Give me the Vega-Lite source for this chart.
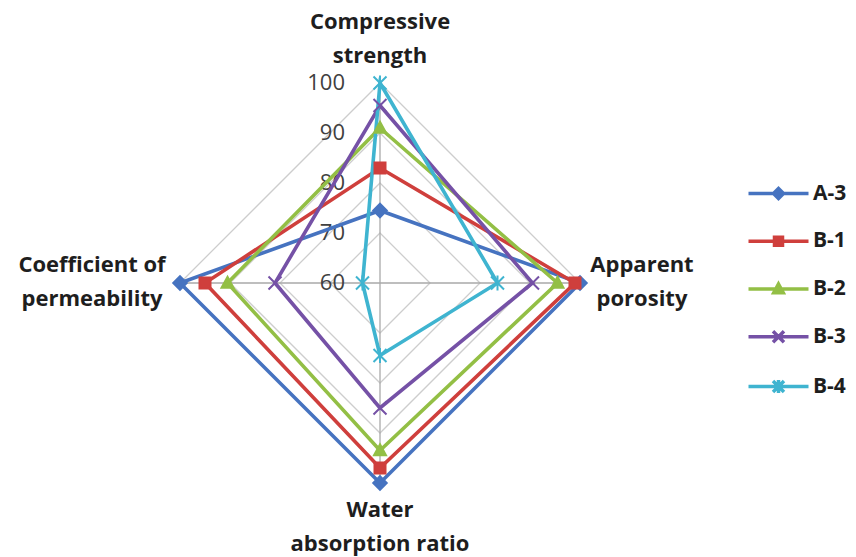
{
  "$schema": "https://vega.github.io/schema/vega-lite/v6.json",
  "width": 856,
  "height": 557,
  "padding": 0,
  "autosize": {"type": "none"},
  "background": "white",
  "config": {"view": {"stroke": null}, "font": "Open Sans"},
  "datasets": {
    "scores": [
      {"series": "A-3", "axis": "Compressive strength", "value": 74.5},
      {"series": "A-3", "axis": "Apparent porosity", "value": 100},
      {"series": "A-3", "axis": "Water absorption ratio", "value": 100},
      {"series": "A-3", "axis": "Coefficient of permeability", "value": 100},
      {"series": "B-1", "axis": "Compressive strength", "value": 83},
      {"series": "B-1", "axis": "Apparent porosity", "value": 99},
      {"series": "B-1", "axis": "Water absorption ratio", "value": 97},
      {"series": "B-1", "axis": "Coefficient of permeability", "value": 95},
      {"series": "B-2", "axis": "Compressive strength", "value": 91},
      {"series": "B-2", "axis": "Apparent porosity", "value": 95.5},
      {"series": "B-2", "axis": "Water absorption ratio", "value": 93.5},
      {"series": "B-2", "axis": "Coefficient of permeability", "value": 90.5},
      {"series": "B-3", "axis": "Compressive strength", "value": 95.5},
      {"series": "B-3", "axis": "Apparent porosity", "value": 90.5},
      {"series": "B-3", "axis": "Water absorption ratio", "value": 85},
      {"series": "B-3", "axis": "Coefficient of permeability", "value": 81},
      {"series": "B-4", "axis": "Compressive strength", "value": 100},
      {"series": "B-4", "axis": "Apparent porosity", "value": 83.5},
      {"series": "B-4", "axis": "Water absorption ratio", "value": 74.5},
      {"series": "B-4", "axis": "Coefficient of permeability", "value": 63.5}
    ],
    "grid": [
      {"value": 70, "axis": "Compressive strength"},
      {"value": 70, "axis": "Apparent porosity"},
      {"value": 70, "axis": "Water absorption ratio"},
      {"value": 70, "axis": "Coefficient of permeability"},
      {"value": 80, "axis": "Compressive strength"},
      {"value": 80, "axis": "Apparent porosity"},
      {"value": 80, "axis": "Water absorption ratio"},
      {"value": 80, "axis": "Coefficient of permeability"},
      {"value": 90, "axis": "Compressive strength"},
      {"value": 90, "axis": "Apparent porosity"},
      {"value": 90, "axis": "Water absorption ratio"},
      {"value": 90, "axis": "Coefficient of permeability"},
      {"value": 100, "axis": "Compressive strength"},
      {"value": 100, "axis": "Apparent porosity"},
      {"value": 100, "axis": "Water absorption ratio"},
      {"value": 100, "axis": "Coefficient of permeability"}
    ],
    "ticks": [{"value": 60}, {"value": 70}, {"value": 80}, {"value": 90}, {"value": 100}],
    "titles": [
      {"axis": "Compressive strength", "label": ["Compressive", "strength"]},
      {"axis": "Apparent porosity", "label": ["Apparent", "porosity"]},
      {"axis": "Water absorption ratio", "label": ["Water", "absorption ratio"]},
      {"axis": "Coefficient of permeability", "label": ["Coefficient of", "permeability"]}
    ]
  },
  "layer": [
    {
      "data": {"name": "grid"},
      "transform": [
        {"calculate": "indexof(['Compressive strength','Apparent porosity','Water absorption ratio','Coefficient of permeability'], datum.axis)", "as": "idx"},
        {"calculate": "(datum.value - 60) * sin(datum.idx * PI / 2)", "as": "px"},
        {"calculate": "(datum.value - 60) * cos(datum.idx * PI / 2)", "as": "py"}
      ],
      "mark": {"type": "line", "interpolate": "linear-closed", "stroke": "#cdcdcd", "strokeWidth": 1.3},
      "encoding": {
        "x": {"field": "px", "type": "quantitative", "scale": {"domain": [-76, 95.2], "nice": false, "zero": false}, "axis": null},
        "y": {"field": "py", "type": "quantitative", "scale": {"domain": [-54.8, 56.6], "nice": false, "zero": false}, "axis": null},
        "detail": {"field": "value", "type": "nominal"},
        "order": {"field": "idx", "type": "quantitative"}
      }
    },
    {
      "data": {"name": "grid"},
      "transform": [
        {"filter": "datum.value === 100"},
        {"calculate": "indexof(['Compressive strength','Apparent porosity','Water absorption ratio','Coefficient of permeability'], datum.axis)", "as": "idx"},
        {"calculate": "(datum.value - 60) * sin(datum.idx * PI / 2)", "as": "px"},
        {"calculate": "(datum.value - 60) * cos(datum.idx * PI / 2)", "as": "py"}
      ],
      "mark": {"type": "rule", "stroke": "#a9a9a9", "strokeWidth": 1.3},
      "encoding": {
        "x": {"field": "px", "type": "quantitative", "scale": {"domain": [-76, 95.2], "nice": false, "zero": false}, "axis": null},
        "y": {"field": "py", "type": "quantitative", "scale": {"domain": [-54.8, 56.6], "nice": false, "zero": false}, "axis": null},
        "x2": {"datum": 0},
        "y2": {"datum": 0}
      }
    },
    {
      "data": {"name": "ticks"},
      "transform": [{"calculate": "datum.value - 60", "as": "py"}],
      "mark": {"type": "text", "align": "right", "baseline": "middle", "dx": -35, "font": "Open Sans", "fontSize": 22, "color": "#404040"},
      "encoding": {
        "x": {"datum": 0, "type": "quantitative", "scale": {"domain": [-76, 95.2], "nice": false, "zero": false}, "axis": null},
        "y": {"field": "py", "type": "quantitative", "scale": {"domain": [-54.8, 56.6], "nice": false, "zero": false}, "axis": null},
        "text": {"field": "value", "type": "quantitative"}
      }
    },
    {
      "data": {"name": "scores"},
      "transform": [
        {"calculate": "indexof(['Compressive strength','Apparent porosity','Water absorption ratio','Coefficient of permeability'], datum.axis)", "as": "idx"},
        {"calculate": "(datum.value - 60) * sin(datum.idx * PI / 2)", "as": "px"},
        {"calculate": "(datum.value - 60) * cos(datum.idx * PI / 2)", "as": "py"}
      ],
      "mark": {"type": "line", "interpolate": "linear-closed", "strokeWidth": 3.6},
      "encoding": {
        "x": {"field": "px", "type": "quantitative", "scale": {"domain": [-76, 95.2], "nice": false, "zero": false}, "axis": null},
        "y": {"field": "py", "type": "quantitative", "scale": {"domain": [-54.8, 56.6], "nice": false, "zero": false}, "axis": null},
        "color": {
          "field": "series", "type": "nominal",
          "scale": {"domain": ["A-3", "B-1", "B-2", "B-3", "B-4"], "range": ["#4673c0", "#cf3f3c", "#93bf45", "#7551a6", "#3fb4d0"]},
          "legend": {
            "title": null,
            "orient": "none",
            "legendX": 768,
            "legendY": 183,
            "labelFont": "Open Sans",
            "labelFontWeight": "bold",
            "labelFontSize": 21,
            "labelColor": "#1e1e1e",
            "labelOffset": 24,
            "symbolSize": 100,
            "symbolStrokeWidth": 3.5,
            "rowPadding": 23.75
          }
        },
        "order": {"field": "idx", "type": "quantitative"}
      }
    },
    {
      "data": {"name": "scores"},
      "transform": [
        {"filter": "datum.series === 'A-3'"},
        {"calculate": "indexof(['Compressive strength','Apparent porosity','Water absorption ratio','Coefficient of permeability'], datum.axis)", "as": "idx"},
        {"calculate": "(datum.value - 60) * sin(datum.idx * PI / 2)", "as": "px"},
        {"calculate": "(datum.value - 60) * cos(datum.idx * PI / 2)", "as": "py"}
      ],
      "mark": {"type": "point", "filled": true, "size": 100, "opacity": 1, "strokeWidth": 2, "shape": "M0,-1.35L1.35,0L0,1.35L-1.35,0Z"},
      "encoding": {
        "x": {"field": "px", "type": "quantitative", "scale": {"domain": [-76, 95.2], "nice": false, "zero": false}, "axis": null},
        "y": {"field": "py", "type": "quantitative", "scale": {"domain": [-54.8, 56.6], "nice": false, "zero": false}, "axis": null},
        "fill": {"field": "series", "type": "nominal", "scale": {"domain": ["A-3", "B-1", "B-2", "B-3", "B-4"], "range": ["#4673c0", "#cf3f3c", "#93bf45", "#7551a6", "#3fb4d0"]}, "legend": null},
        "stroke": {"field": "series", "type": "nominal", "scale": {"domain": ["A-3", "B-1", "B-2", "B-3", "B-4"], "range": ["#4673c0", "#cf3f3c", "#93bf45", "#7551a6", "#3fb4d0"]}, "legend": null}
      }
    },
    {
      "data": {"name": "scores"},
      "transform": [
        {"filter": "datum.series === 'B-1'"},
        {"calculate": "indexof(['Compressive strength','Apparent porosity','Water absorption ratio','Coefficient of permeability'], datum.axis)", "as": "idx"},
        {"calculate": "(datum.value - 60) * sin(datum.idx * PI / 2)", "as": "px"},
        {"calculate": "(datum.value - 60) * cos(datum.idx * PI / 2)", "as": "py"}
      ],
      "mark": {"type": "point", "filled": true, "size": 100, "opacity": 1, "strokeWidth": 2, "shape": "M-1.1,-1.1H1.1V1.1H-1.1Z"},
      "encoding": {
        "x": {"field": "px", "type": "quantitative", "scale": {"domain": [-76, 95.2], "nice": false, "zero": false}, "axis": null},
        "y": {"field": "py", "type": "quantitative", "scale": {"domain": [-54.8, 56.6], "nice": false, "zero": false}, "axis": null},
        "fill": {"field": "series", "type": "nominal", "scale": {"domain": ["A-3", "B-1", "B-2", "B-3", "B-4"], "range": ["#4673c0", "#cf3f3c", "#93bf45", "#7551a6", "#3fb4d0"]}, "legend": null},
        "stroke": {"field": "series", "type": "nominal", "scale": {"domain": ["A-3", "B-1", "B-2", "B-3", "B-4"], "range": ["#4673c0", "#cf3f3c", "#93bf45", "#7551a6", "#3fb4d0"]}, "legend": null}
      }
    },
    {
      "data": {"name": "scores"},
      "transform": [
        {"filter": "datum.series === 'B-2'"},
        {"calculate": "indexof(['Compressive strength','Apparent porosity','Water absorption ratio','Coefficient of permeability'], datum.axis)", "as": "idx"},
        {"calculate": "(datum.value - 60) * sin(datum.idx * PI / 2)", "as": "px"},
        {"calculate": "(datum.value - 60) * cos(datum.idx * PI / 2)", "as": "py"}
      ],
      "mark": {"type": "point", "filled": true, "size": 100, "opacity": 1, "strokeWidth": 2, "shape": "M0,-1.25L1.2,0.95H-1.2Z"},
      "encoding": {
        "x": {"field": "px", "type": "quantitative", "scale": {"domain": [-76, 95.2], "nice": false, "zero": false}, "axis": null},
        "y": {"field": "py", "type": "quantitative", "scale": {"domain": [-54.8, 56.6], "nice": false, "zero": false}, "axis": null},
        "fill": {"field": "series", "type": "nominal", "scale": {"domain": ["A-3", "B-1", "B-2", "B-3", "B-4"], "range": ["#4673c0", "#cf3f3c", "#93bf45", "#7551a6", "#3fb4d0"]}, "legend": null},
        "stroke": {"field": "series", "type": "nominal", "scale": {"domain": ["A-3", "B-1", "B-2", "B-3", "B-4"], "range": ["#4673c0", "#cf3f3c", "#93bf45", "#7551a6", "#3fb4d0"]}, "legend": null}
      }
    },
    {
      "data": {"name": "scores"},
      "transform": [
        {"filter": "datum.series === 'B-3'"},
        {"calculate": "indexof(['Compressive strength','Apparent porosity','Water absorption ratio','Coefficient of permeability'], datum.axis)", "as": "idx"},
        {"calculate": "(datum.value - 60) * sin(datum.idx * PI / 2)", "as": "px"},
        {"calculate": "(datum.value - 60) * cos(datum.idx * PI / 2)", "as": "py"}
      ],
      "mark": {"type": "point", "filled": true, "size": 100, "opacity": 1, "strokeWidth": 2, "shape": "M-1.3,-1.3L1.3,1.3M-1.3,1.3L1.3,-1.3"},
      "encoding": {
        "x": {"field": "px", "type": "quantitative", "scale": {"domain": [-76, 95.2], "nice": false, "zero": false}, "axis": null},
        "y": {"field": "py", "type": "quantitative", "scale": {"domain": [-54.8, 56.6], "nice": false, "zero": false}, "axis": null},
        "fill": {"field": "series", "type": "nominal", "scale": {"domain": ["A-3", "B-1", "B-2", "B-3", "B-4"], "range": ["#4673c0", "#cf3f3c", "#93bf45", "#7551a6", "#3fb4d0"]}, "legend": null},
        "stroke": {"field": "series", "type": "nominal", "scale": {"domain": ["A-3", "B-1", "B-2", "B-3", "B-4"], "range": ["#4673c0", "#cf3f3c", "#93bf45", "#7551a6", "#3fb4d0"]}, "legend": null}
      }
    },
    {
      "data": {"name": "scores"},
      "transform": [
        {"filter": "datum.series === 'B-4'"},
        {"calculate": "indexof(['Compressive strength','Apparent porosity','Water absorption ratio','Coefficient of permeability'], datum.axis)", "as": "idx"},
        {"calculate": "(datum.value - 60) * sin(datum.idx * PI / 2)", "as": "px"},
        {"calculate": "(datum.value - 60) * cos(datum.idx * PI / 2)", "as": "py"}
      ],
      "mark": {"type": "point", "filled": true, "size": 100, "opacity": 1, "strokeWidth": 2, "shape": "M-1.3,-1.3L1.3,1.3M-1.3,1.3L1.3,-1.3M0,-1.5V1.5"},
      "encoding": {
        "x": {"field": "px", "type": "quantitative", "scale": {"domain": [-76, 95.2], "nice": false, "zero": false}, "axis": null},
        "y": {"field": "py", "type": "quantitative", "scale": {"domain": [-54.8, 56.6], "nice": false, "zero": false}, "axis": null},
        "fill": {"field": "series", "type": "nominal", "scale": {"domain": ["A-3", "B-1", "B-2", "B-3", "B-4"], "range": ["#4673c0", "#cf3f3c", "#93bf45", "#7551a6", "#3fb4d0"]}, "legend": null},
        "stroke": {"field": "series", "type": "nominal", "scale": {"domain": ["A-3", "B-1", "B-2", "B-3", "B-4"], "range": ["#4673c0", "#cf3f3c", "#93bf45", "#7551a6", "#3fb4d0"]}, "legend": null}
      }
    },
    {
      "description": "Legend key only: a line through each series marker; no rows pass the filter, so it draws nothing in the plot.",
      "data": {"name": "scores"},
      "transform": [{"filter": "false"}],
      "mark": {"type": "point", "filled": true, "size": 100, "opacity": 1, "strokeWidth": 3.5},
      "encoding": {
        "fill": {"field": "series", "type": "nominal", "scale": {"domain": ["A-3", "B-1", "B-2", "B-3", "B-4"], "range": ["#4673c0", "#cf3f3c", "#93bf45", "#7551a6", "#3fb4d0"]}, "legend": null},
        "stroke": {"field": "series", "type": "nominal", "scale": {"domain": ["A-3", "B-1", "B-2", "B-3", "B-4"], "range": ["#4673c0", "#cf3f3c", "#93bf45", "#7551a6", "#3fb4d0"]}, "legend": null},
        "shape": {
          "field": "series", "type": "nominal",
          "scale": {"domain": ["A-3", "B-1", "B-2", "B-3", "B-4"], "range": ["M-6,0H6M0,-1L1,0L0,1L-1,0Z", "M-6,0H6M-0.8,-0.8H0.8V0.8H-0.8Z", "M-6,0H6M0,-1L0.95,0.75H-0.95Z", "M-6,0H6M-1.1,-1.1L1.1,1.1M-1.1,1.1L1.1,-1.1", "M-6,0H6M-1.1,-1.1L1.1,1.1M-1.1,1.1L1.1,-1.1M0,-1.3V1.3"]},
          "legend": null
        }
      }
    },
    {
      "data": {"name": "titles"},
      "transform": [
        {"filter": "datum.axis === 'Compressive strength'"},
        {"calculate": "indexof(['Compressive strength','Apparent porosity','Water absorption ratio','Coefficient of permeability'], datum.axis)", "as": "idx"},
        {"calculate": "40 * sin(datum.idx * PI / 2)", "as": "px"},
        {"calculate": "40 * cos(datum.idx * PI / 2)", "as": "py"}
      ],
      "mark": {"type": "text", "align": "center", "baseline": "middle", "dy": -61, "lineHeight": 34, "font": "Open Sans", "fontWeight": "bold", "fontSize": 22, "color": "#1e1e1e"},
      "encoding": {
        "x": {"field": "px", "type": "quantitative", "scale": {"domain": [-76, 95.2], "nice": false, "zero": false}, "axis": null},
        "y": {"field": "py", "type": "quantitative", "scale": {"domain": [-54.8, 56.6], "nice": false, "zero": false}, "axis": null},
        "text": {"field": "label", "type": "nominal"}
      }
    },
    {
      "data": {"name": "titles"},
      "transform": [
        {"filter": "datum.axis === 'Apparent porosity'"},
        {"calculate": "indexof(['Compressive strength','Apparent porosity','Water absorption ratio','Coefficient of permeability'], datum.axis)", "as": "idx"},
        {"calculate": "40 * sin(datum.idx * PI / 2)", "as": "px"},
        {"calculate": "40 * cos(datum.idx * PI / 2)", "as": "py"}
      ],
      "mark": {"type": "text", "align": "center", "baseline": "middle", "dx": 62, "dy": -18, "lineHeight": 34, "font": "Open Sans", "fontWeight": "bold", "fontSize": 22, "color": "#1e1e1e"},
      "encoding": {
        "x": {"field": "px", "type": "quantitative", "scale": {"domain": [-76, 95.2], "nice": false, "zero": false}, "axis": null},
        "y": {"field": "py", "type": "quantitative", "scale": {"domain": [-54.8, 56.6], "nice": false, "zero": false}, "axis": null},
        "text": {"field": "label", "type": "nominal"}
      }
    },
    {
      "data": {"name": "titles"},
      "transform": [
        {"filter": "datum.axis === 'Water absorption ratio'"},
        {"calculate": "indexof(['Compressive strength','Apparent porosity','Water absorption ratio','Coefficient of permeability'], datum.axis)", "as": "idx"},
        {"calculate": "40 * sin(datum.idx * PI / 2)", "as": "px"},
        {"calculate": "40 * cos(datum.idx * PI / 2)", "as": "py"}
      ],
      "mark": {"type": "text", "align": "center", "baseline": "middle", "dy": 27, "lineHeight": 34, "font": "Open Sans", "fontWeight": "bold", "fontSize": 22, "color": "#1e1e1e"},
      "encoding": {
        "x": {"field": "px", "type": "quantitative", "scale": {"domain": [-76, 95.2], "nice": false, "zero": false}, "axis": null},
        "y": {"field": "py", "type": "quantitative", "scale": {"domain": [-54.8, 56.6], "nice": false, "zero": false}, "axis": null},
        "text": {"field": "label", "type": "nominal"}
      }
    },
    {
      "data": {"name": "titles"},
      "transform": [
        {"filter": "datum.axis === 'Coefficient of permeability'"},
        {"calculate": "indexof(['Compressive strength','Apparent porosity','Water absorption ratio','Coefficient of permeability'], datum.axis)", "as": "idx"},
        {"calculate": "40 * sin(datum.idx * PI / 2)", "as": "px"},
        {"calculate": "40 * cos(datum.idx * PI / 2)", "as": "py"}
      ],
      "mark": {"type": "text", "align": "center", "baseline": "middle", "dx": -88, "dy": -18, "lineHeight": 34, "font": "Open Sans", "fontWeight": "bold", "fontSize": 22, "color": "#1e1e1e"},
      "encoding": {
        "x": {"field": "px", "type": "quantitative", "scale": {"domain": [-76, 95.2], "nice": false, "zero": false}, "axis": null},
        "y": {"field": "py", "type": "quantitative", "scale": {"domain": [-54.8, 56.6], "nice": false, "zero": false}, "axis": null},
        "text": {"field": "label", "type": "nominal"}
      }
    }
  ]
}
